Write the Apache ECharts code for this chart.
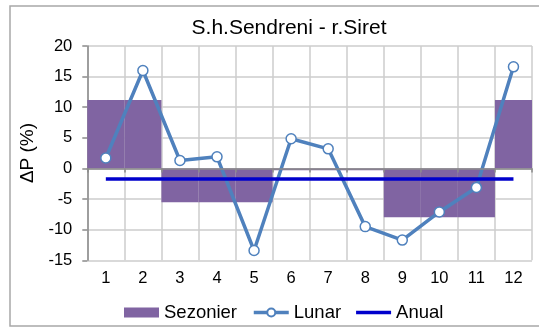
<!DOCTYPE html>
<html>
<head>
<meta charset="utf-8">
<script src="https://cdn.jsdelivr.net/npm/echarts@6/dist/echarts.min.js"></script>
<style>
  html, body { margin: 0; padding: 0; background: #fff; }
  #chart { width: 539px; height: 327px; }
</style>
</head>
<body>
<div id="chart"></div>
<script>
// Months on the category axis
const months = ['1', '2', '3', '4', '5', '6', '7', '8', '9', '10', '11', '12'];
// Seasonal deviation (winter, spring, summer, autumn), in %
const seasonValues = [11.2, -5.5, -0.3, -7.95];
// Season index for each month (Dec-Feb winter, Mar-May spring, ...)
const seasonOfMonth = [0, 0, 1, 1, 1, 2, 2, 2, 3, 3, 3, 0];
// Monthly deviation, in %
const monthlyValues = [1.7, 16.0, 1.3, 1.9, -13.4, 4.85, 3.2, -9.5, -11.7, -7.1, -3.1, 16.6];
// Annual deviation, in %
const annualValue = -1.73;
// Value axis ticks
const yTicks = { min: -15, max: 20, step: 5 };

const seasonalByMonth = seasonOfMonth.map(s => seasonValues[s]);
const annualByMonth = months.map(() => annualValue);

const font = 'Liberation Sans, Arial, sans-serif';
const gridColor = '#cccccc';
const axisColor = '#8a8a8a';
const lunarColor = '#4F81BD';
const annualColor = '#0000CC';

const chart = echarts.init(document.getElementById('chart'), null, { renderer: 'canvas' });
chart.setOption({
  animation: false,
  backgroundColor: '#fff',
  textStyle: { fontFamily: font },
  graphic: [{
    type: 'rect',
    shape: { x: 10, y: 6, width: 540, height: 320 },
    style: { fill: 'none', stroke: '#a8a8a8', lineWidth: 1.5 },
    silent: true,
    z: 0
  }, {
    // value axis title, rotated and centred on the plot height
    type: 'text',
    x: 28,
    y: 153,
    rotation: Math.PI / 2,
    style: {
      text: 'ΔP (%)',
      font: '19px ' + font,
      fill: '#000',
      align: 'center',
      verticalAlign: 'middle'
    },
    silent: true,
    z: 10
  }],
  title: {
    text: 'S.h.Sendreni - r.Siret',
    left: 284,
    textAlign: 'center',
    top: 13,
    textStyle: { fontFamily: font, fontSize: 21, fontWeight: 'normal', color: '#000' }
  },
  legend: {
    left: 119,
    top: 298,
    itemGap: 15,
    itemWidth: 35,
    itemHeight: 10,
    symbolKeepAspect: true,
    textStyle: { fontFamily: font, fontSize: 18.5, color: '#000' },
    data: [
      { name: 'Sezonier', icon: 'rect' },
      { name: 'Lunar', lineStyle: { width: 3.5, color: lunarColor } },
      { name: 'Anual', icon: 'path://M0,0L35,0L35,3.5L0,3.5Z', itemStyle: { color: annualColor } }
    ]
  },
  grid: { left: 87.3, right: 7, top: 46, bottom: 66.7, containLabel: false },
  xAxis: [{
    type: 'category',
    data: months,
    position: 'bottom',
    axisLine: { show: false, onZero: false },
    axisTick: { show: false },
    axisLabel: { fontFamily: font, fontSize: 16.5, color: '#000', margin: 10 },
    splitLine: { show: true, lineStyle: { color: gridColor, width: 1.5 } }
  }, {
    type: 'category',
    data: months,
    position: 'bottom',
    z: 5,
    axisLine: { show: true, onZero: true, lineStyle: { color: axisColor, width: 1.5 } },
    axisTick: { show: true, length: 4, lineStyle: { color: axisColor, width: 1.5 } },
    axisLabel: { show: false },
    splitLine: { show: false }
  }],
  yAxis: {
    type: 'value',
    min: yTicks.min,
    max: yTicks.max,
    interval: yTicks.step,
    axisLine: { show: true, lineStyle: { color: axisColor, width: 1.5 } },
    axisTick: { show: true, length: 5, lineStyle: { color: axisColor, width: 1.5 } },
    axisLabel: { fontFamily: font, fontSize: 16.5, color: '#000', margin: 15 },
    splitLine: { show: true, lineStyle: { color: gridColor, width: 1.5 } }
  },
  series: [{
    name: 'Sezonier',
    type: 'bar',
    xAxisIndex: 0,
    data: seasonalByMonth,
    barCategoryGap: '0%',
    itemStyle: { color: '#8064A2' },
    z: 2
  }, {
    name: 'Lunar',
    type: 'line',
    xAxisIndex: 0,
    data: monthlyValues,
    symbol: 'circle',
    symbolSize: 10,
    lineStyle: { color: lunarColor, width: 3.5 },
    itemStyle: { color: '#ffffff', borderColor: lunarColor, borderWidth: 1.5 },
    z: 3
  }, {
    name: 'Anual',
    type: 'line',
    xAxisIndex: 0,
    data: annualByMonth,
    symbol: 'none',
    lineStyle: { color: annualColor, width: 3.5 },
    itemStyle: { color: annualColor },
    z: 4
  }]
});
</script>
</body>
</html>
